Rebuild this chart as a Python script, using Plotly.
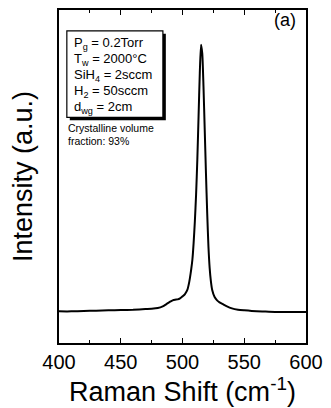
import plotly.graph_objects as go

raman_shift = [400, 410, 420, 430, 440, 450, 460, 470, 475, 480, 484, 487, 490, 492, 494, 496, 498,
               500, 502, 504, 505, 506, 507, 508, 509, 510, 511, 512, 513, 514, 515, 516, 517, 518,
               519, 520, 521, 522, 523, 524, 526, 528, 530, 533, 536, 540, 545, 550, 560, 570, 580,
               590, 600]
intensity = [95, 95, 96, 97, 98, 99, 100, 102, 103, 105, 110, 117, 124, 128, 130, 131, 134,
             140, 147, 160, 175, 195, 220, 250, 300, 365, 445, 550, 680, 810, 896, 870, 770, 640,
             510, 390, 290, 225, 185, 160, 138, 128, 122, 116, 110, 104, 100, 98, 95, 94, 93,
             93, 93]

x_ticks = [400, 450, 500, 550, 600]
params = ["P<sub>g</sub> = 0.2Torr", "T<sub>w</sub> = 2000°C", "SiH<sub>4</sub> = 2sccm",
          "H<sub>2</sub> = 50sccm", "d<sub>wg</sub> = 2cm"]
note = ["Crystalline volume", "fraction: 93%"]
panel = "(a)"

FONT = "Liberation Sans, Arial, sans-serif"
W, H = 331, 408
L, R, T, B = 59, 20, 8, 65
pw, ph = W - L - R, H - T - B


def px(x):
    return (x - L) / pw


def py(y):
    return (H - B - y) / ph


fig = go.Figure()
fig.add_trace(go.Scatter(x=raman_shift, y=intensity, mode="lines",
                         line=dict(color="black", width=2, shape="spline", smoothing=0.6),
                         showlegend=False, hoverinfo="skip"))

# parameter box with shadow
fig.add_shape(type="rect", xref="paper", yref="paper",
              x0=px(70), x1=px(168), y0=py(119), y1=py(32),
              fillcolor="black", line=dict(width=0), layer="above")
fig.add_shape(type="rect", xref="paper", yref="paper",
              x0=px(67), x1=px(165), y0=py(116), y1=py(29),
              fillcolor="white", line=dict(color="black", width=1.2), layer="above")

for i, t in enumerate(params):
    fig.add_annotation(text=t, xref="paper", yref="paper", x=px(72), y=py(42 + i * 16),
                       xanchor="left", yanchor="middle", showarrow=False,
                       font=dict(family=FONT, size=13, color="black"))

for i, t in enumerate(note):
    fig.add_annotation(text=t, xref="paper", yref="paper", x=px(66), y=py(127 + i * 12.5),
                       xanchor="left", yanchor="middle", showarrow=False,
                       font=dict(family=FONT, size=10.5, color="black"))

fig.add_annotation(text=panel, xref="paper", yref="paper", x=px(290), y=py(18),
                   xanchor="center", yanchor="middle", showarrow=False,
                   font=dict(family=FONT, size=18, color="black"))

fig.update_layout(
    width=W, height=H,
    margin=dict(l=L, r=R, t=T, b=B),
    paper_bgcolor="white", plot_bgcolor="white",
    font=dict(family=FONT, color="black"),
    xaxis=dict(range=[400, 600], tickvals=x_ticks, ticks="inside", ticklen=5, tickwidth=1.2,
               tickcolor="black", showline=True, linecolor="black", linewidth=1.5, mirror="ticks",
               showgrid=False, zeroline=False, tickfont=dict(size=20, family=FONT),
               minor=dict(dtick=25, tick0=400, ticks="inside", ticklen=3, tickcolor="black"),
               title=dict(text="Raman Shift (cm<sup>-1</sup>)", font=dict(size=27, family=FONT),
                          standoff=4)),
    yaxis=dict(range=[0, 1000], showticklabels=False, ticks="", showline=True, linecolor="black",
               linewidth=1.5, mirror=True, showgrid=False, zeroline=False,
               title=dict(text="Intensity (a.u.)", font=dict(size=27, family=FONT), standoff=17)),
)

fig.write_html("out.html")
